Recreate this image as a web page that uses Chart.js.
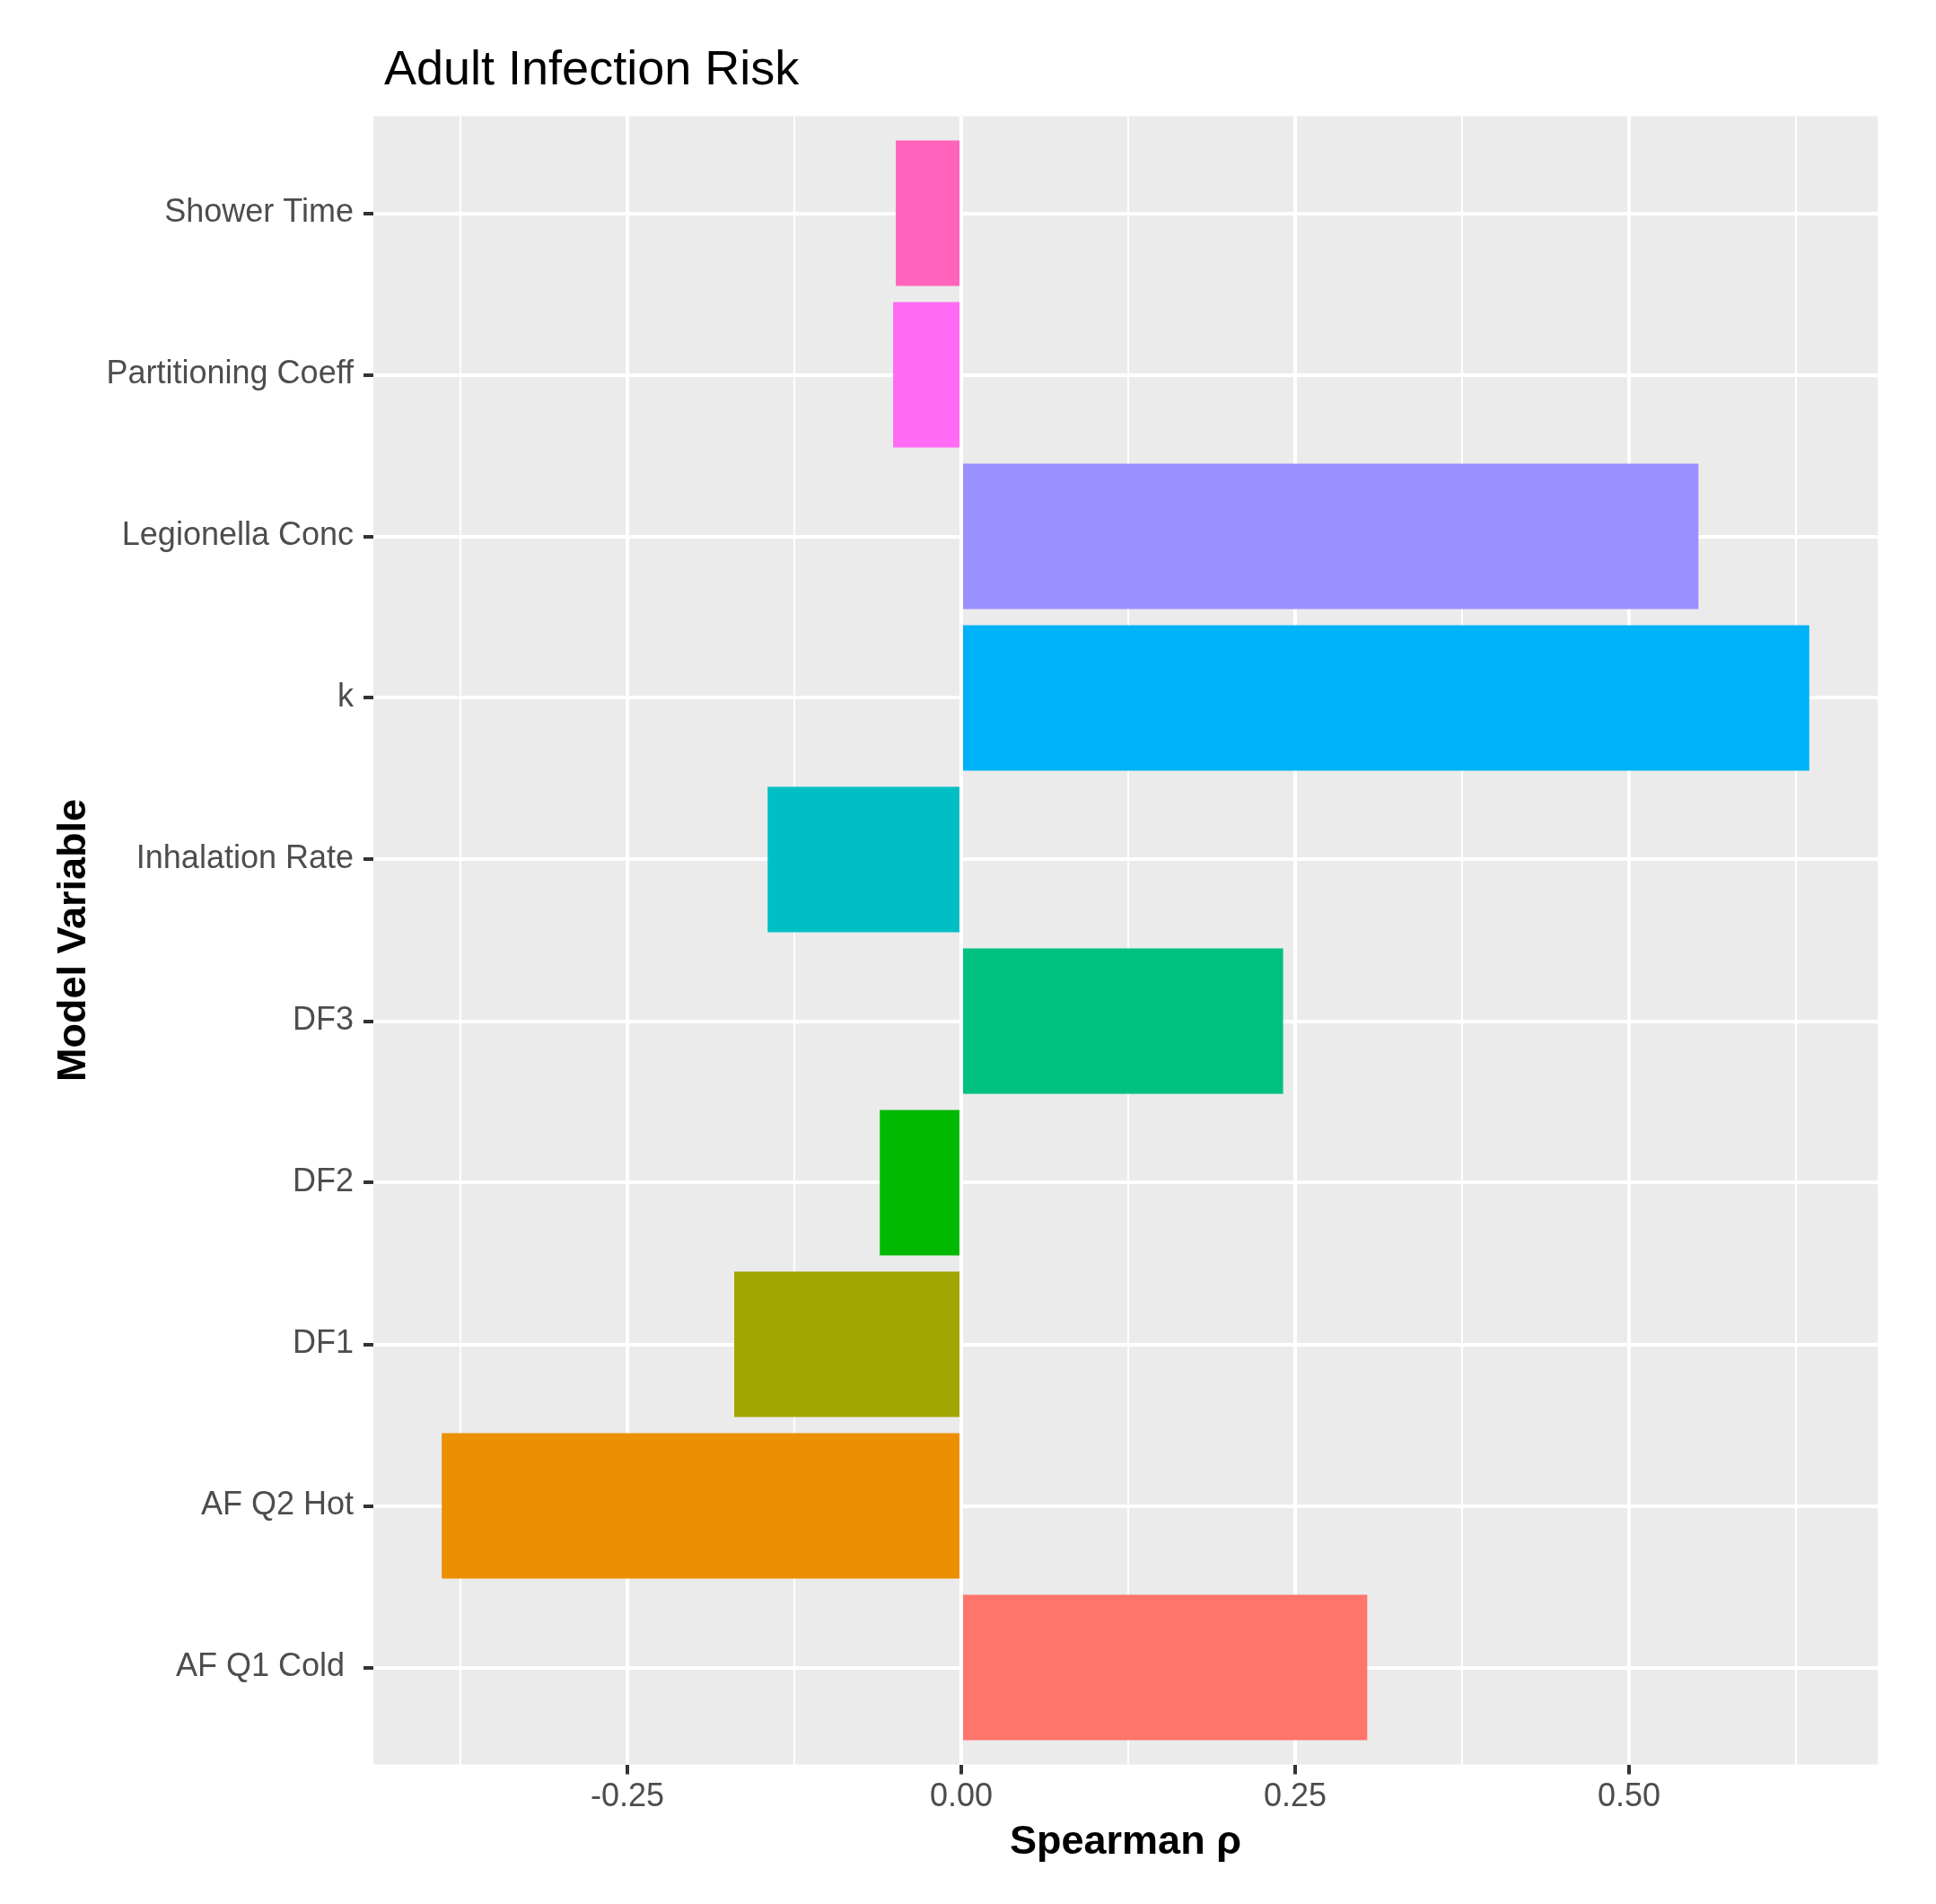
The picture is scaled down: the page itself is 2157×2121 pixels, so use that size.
<!DOCTYPE html>
<html>
<head>
<meta charset="utf-8">
<script src="https://cdn.jsdelivr.net/npm/chart.js@4/dist/chart.umd.min.js"></script>
<style>
  html, body { margin: 0; padding: 0; background: #ffffff; }
  canvas { display: block; }
</style>
</head>
<body>
<canvas id="c" width="2157" height="2121" style="width:2157px;height:2121px"></canvas>
<script>
// ---- data (ggplot factor order: first level at the bottom) ----
const categories = ['AF Q1 Cold ', 'AF Q2 Hot', 'DF1', 'DF2', 'DF3', 'Inhalation Rate', 'k', 'Legionella Conc', 'Partitioning Coeff', 'Shower Time'];
const spearmanRho = [0.304, -0.389, -0.170, -0.061, 0.241, -0.145, 0.635, 0.552, -0.051, -0.049];
const barColors = ['#FF756B', '#EC8F00', '#A3A500', '#00B900', '#00C17F', '#00BFC4', '#00B2F7', '#9A90FF', '#FF6BF5', '#FF63BC'];
const xTickValues = [-0.25, 0, 0.25, 0.5];
const xTickLabels = ['-0.25', '0.00', '0.25', '0.50'];
const xMinorValues = [-0.375, -0.125, 0.125, 0.375, 0.625];
const titleText = 'Adult Infection Risk';
const xTitle = 'Spearman \u03C1';
const yTitle = 'Model Variable';

// ggplot-style 5% expansion of the continuous axis
const dMin = Math.min(0, ...spearmanRho), dMax = Math.max(0, ...spearmanRho);
const span = dMax - dMin;
const xMin = dMin - 0.05 * span, xMax = dMax + 0.05 * span;

const FONT = "'Liberation Sans', Arial, Helvetica, sans-serif";
const gridValues = [...xMinorValues, ...xTickValues].sort((a, b) => a - b);
const isMajor = v => xTickValues.some(t => Math.abs(t - v) < 1e-9);

const panelBg = {
  id: 'panelBg',
  afterLayout(chart) {
    if (chart.titleBlock) chart.titleBlock.left = 428;
  },
  beforeDraw(chart) {
    const a = chart.chartArea, ctx = chart.ctx;
    ctx.save();
    ctx.fillStyle = '#EBEBEB';
    ctx.fillRect(a.left, a.top, a.right - a.left, a.bottom - a.top);
    ctx.restore();
  }
};

new Chart(document.getElementById('c'), {
  type: 'bar',
  data: {
    datasets: [{
      data: categories.map((c, i) => ({ x: spearmanRho[i], y: i + 1 })),
      backgroundColor: barColors,
      borderWidth: 0,
      categoryPercentage: 1,
      barPercentage: 0.9
    }]
  },
  options: {
    indexAxis: 'y',
    responsive: false,
    animation: false,
    layout: { padding: { left: 0, right: 65, top: 0, bottom: 0 } },
    plugins: {
      legend: { display: false },
      tooltip: { enabled: false },
      title: {
        display: true,
        text: titleText,
        align: 'start',
        color: '#000000',
        font: { family: FONT, size: 54, weight: 'normal', lineHeight: 1.2 },
        padding: { top: 46.6, bottom: 18.1 }
      }
    },
    scales: {
      x: {
        type: 'linear',
        min: xMin,
        max: xMax,
        offset: false,
        afterBuildTicks: axis => { axis.ticks = gridValues.map(v => ({ value: v })); },
        afterFit: axis => { axis.height = 155.5; },
        border: { display: false },
        grid: {
          offset: false,
          color: '#FFFFFF',
          lineWidth: c => (c.tick && isMajor(c.tick.value)) ? 4 : 2,
          drawTicks: true,
          tickLength: 11,
          tickWidth: 4,
          tickColor: c => (c.tick && isMajor(c.tick.value)) ? '#333333' : 'rgba(0,0,0,0)'
        },
        ticks: {
          autoSkip: false,
          maxRotation: 0,
          minRotation: 0,
          padding: 4,
          color: '#4D4D4D',
          font: { family: FONT, size: 36 },
          callback: v => {
            const i = xTickValues.findIndex(t => Math.abs(t - v) < 1e-9);
            return i >= 0 ? xTickLabels[i] : '';
          }
        },
        title: {
          display: true,
          text: xTitle,
          color: '#000000',
          font: { family: FONT, size: 45, weight: 'bold', lineHeight: 1.2 },
          padding: { top: 0, bottom: 41.3 }
        }
      },
      y: {
        type: 'linear',
        min: 0.4,
        max: 10.6,
        offset: false,
        afterBuildTicks: axis => { axis.ticks = categories.map((c, i) => ({ value: i + 1 })); },
        afterFit: axis => { axis.width = 416; },
        border: { display: false },
        grid: {
          offset: false,
          color: '#FFFFFF',
          lineWidth: 4,
          drawTicks: true,
          tickLength: 11,
          tickWidth: 4,
          tickColor: '#333333'
        },
        ticks: {
          autoSkip: false,
          padding: 11,
          color: '#4D4D4D',
          font: { family: FONT, size: 36 },
          callback: v => categories[Math.round(v) - 1]
        },
        title: {
          display: true,
          text: yTitle,
          color: '#000000',
          font: { family: FONT, size: 45, weight: 'bold', lineHeight: 1.2 },
          padding: { top: 55.7, bottom: 0 }
        }
      }
    }
  },
  plugins: [panelBg]
});
</script>
</body>
</html>
